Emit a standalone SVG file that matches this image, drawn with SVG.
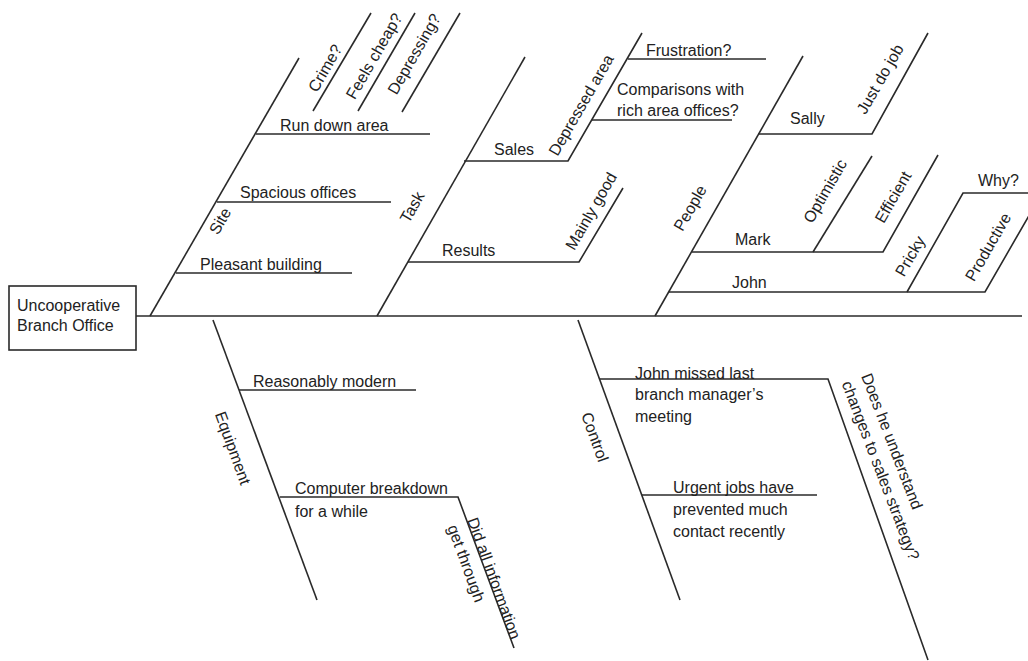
<svg xmlns="http://www.w3.org/2000/svg" width="1028" height="661" viewBox="0 0 1028 661">
<style>
text{font-family:"Liberation Sans",Arial,sans-serif;font-size:16px;fill:#222}
.c text,.r{text-anchor:middle}
line,polyline{stroke:#2a2a2a;stroke-width:1.6;fill:none}
</style>
<rect width="1028" height="661" fill="#fff"/>
<g id="connectors">
<line x1="136" y1="316" x2="1022" y2="316"/>
<line x1="150" y1="316" x2="299" y2="58"/>
<line x1="256" y1="134" x2="430" y2="134"/>
<line x1="217" y1="202" x2="391" y2="202"/>
<line x1="176" y1="273" x2="352" y2="273"/>
<line x1="313" y1="111" x2="371" y2="13"/>
<line x1="358" y1="111" x2="415" y2="13"/>
<line x1="402" y1="112" x2="460" y2="13"/>
<line x1="377" y1="316" x2="525" y2="57"/>
<polyline points="464,161 568,161 642,33"/>
<line x1="628" y1="59" x2="766" y2="59"/>
<line x1="592" y1="120" x2="732" y2="120"/>
<polyline points="408,262 579,262 623,188"/>
<line x1="655" y1="316" x2="803" y2="56"/>
<polyline points="758,134 872,134 928,33"/>
<polyline points="692,252 883,252 938,155"/>
<line x1="813" y1="252" x2="872" y2="156"/>
<polyline points="669,292 985,292 1042,193"/>
<polyline points="907,292 963,193 1030,193"/>
<line x1="213" y1="320" x2="317" y2="600"/>
<line x1="239" y1="390" x2="416" y2="390"/>
<polyline points="280,497 458,497 514,648"/>
<line x1="578" y1="320" x2="680" y2="600"/>
<polyline points="600,379 828,379 928,660"/>
<line x1="642" y1="495" x2="817" y2="495"/>
</g>
<g id="effect">
<rect x="9" y="286" width="127" height="64" fill="#fff" stroke="#2a2a2a" stroke-width="1.6"/>
<text x="17" y="311">Uncooperative</text>
<text x="17" y="331">Branch Office</text>
</g>
<g id="site" class="c"><text transform="translate(220,221) rotate(-60)" dy=".35em">Site</text></g>
<g id="run-down-area"><text x="280" y="131">Run down area</text></g>
<g id="crime" class="c"><text transform="translate(325,68) rotate(-60)" dy=".35em">Crime?</text></g>
<g id="feels-cheap" class="c"><text transform="translate(374,56) rotate(-60)" dy=".35em">Feels cheap?</text></g>
<g id="depressing" class="c"><text transform="translate(414,54) rotate(-60)" dy=".35em">Depressing?</text></g>
<g id="spacious-offices"><text x="240" y="198">Spacious offices</text></g>
<g id="pleasant-building"><text x="200" y="270">Pleasant building</text></g>
<g id="task" class="c"><text transform="translate(412,207) rotate(-60)" dy=".35em">Task</text></g>
<g id="sales"><text x="494" y="155">Sales</text></g>
<g id="depressed-area" class="c"><text transform="translate(581,105) rotate(-60)" dy=".35em">Depressed area</text></g>
<g id="frustration"><text x="646" y="56">Frustration?</text></g>
<g id="comparisons"><text x="617" y="95">Comparisons with</text><text x="617" y="116">rich area offices?</text></g>
<g id="results"><text x="442" y="256">Results</text></g>
<g id="mainly-good" class="c"><text transform="translate(591,211) rotate(-60)" dy=".35em">Mainly good</text></g>
<g id="people" class="c"><text transform="translate(690,208) rotate(-60)" dy=".35em">People</text></g>
<g id="sally"><text x="790" y="124">Sally</text></g>
<g id="just-do-job" class="c"><text transform="translate(880,79) rotate(-60)" dy=".35em">Just do job</text></g>
<g id="mark"><text x="735" y="245">Mark</text></g>
<g id="optimistic" class="c"><text transform="translate(825,191) rotate(-60)" dy=".35em">Optimistic</text></g>
<g id="efficient" class="c"><text transform="translate(893,197) rotate(-60)" dy=".35em">Efficient</text></g>
<g id="john"><text x="732" y="288">John</text></g>
<g id="pricky" class="c"><text transform="translate(910,256) rotate(-60)" dy=".35em">Pricky</text></g>
<g id="productive" class="c"><text transform="translate(988,247) rotate(-60)" dy=".35em">Productive</text></g>
<g id="why"><text x="978" y="186">Why?</text></g>
<g id="equipment" class="c"><text transform="translate(233,448) rotate(70)" dy=".35em">Equipment</text></g>
<g id="reasonably-modern"><text x="253" y="387">Reasonably modern</text></g>
<g id="computer-breakdown"><text x="295" y="494">Computer breakdown</text><text x="295" y="517">for a while</text></g>
<g id="did-all-information" transform="translate(467,520) rotate(70)"><text x="0" y="0">Did all information</text><text x="0" y="21">get through</text></g>
<g id="control" class="c"><text transform="translate(595,437) rotate(70)" dy=".35em">Control</text></g>
<g id="john-missed"><text x="635" y="379">John missed last</text><text x="635" y="400">branch manager’s</text><text x="635" y="422">meeting</text></g>
<g id="does-he-understand" transform="translate(861,376) rotate(69)"><text x="0" y="0">Does he understand</text><text x="0" y="21">changes to sales strategy?</text></g>
<g id="urgent-jobs"><text x="673" y="493">Urgent jobs have</text><text x="673" y="515">prevented much</text><text x="673" y="537">contact recently</text></g>
</svg>
